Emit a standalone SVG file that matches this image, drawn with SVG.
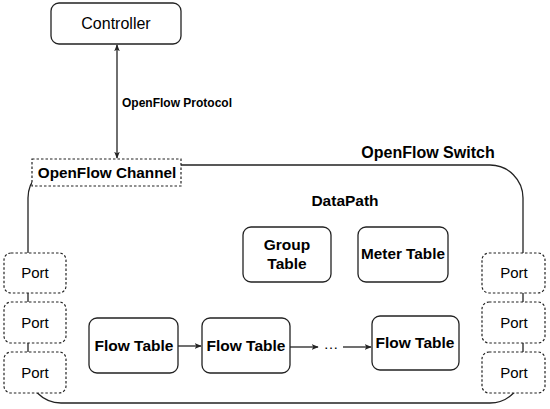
<svg xmlns="http://www.w3.org/2000/svg" width="550" height="409" viewBox="0 0 550 409">
<style>
.box{fill:#fff;stroke:#222;stroke-width:1.3}
.dash{fill:#fff;stroke:#222;stroke-width:1.2;stroke-dasharray:2.5,2}
.line{fill:none;stroke:#222;stroke-width:1.3}
text{font-family:"Liberation Sans",Arial,sans-serif;fill:#000;text-anchor:middle}
.b{font-weight:bold}
</style>
<defs>
<marker id="arr" viewBox="0 0 10 8" refX="9" refY="4" markerWidth="7" markerHeight="6" orient="auto-start-reverse" markerUnits="userSpaceOnUse">
<path d="M0,0 L10,4 L0,8 L2.5,4 z" fill="#222"/>
</marker>
</defs>
<g id="switch">
<rect class="line" x="28" y="165" width="495" height="238" rx="33"/>
<text class="b" x="428" y="158" font-size="16">OpenFlow Switch</text>
<text class="b" x="345" y="206" font-size="15.5">DataPath</text>
</g>
<g id="controller">
<rect class="box" x="51" y="3" width="130" height="41" rx="8"/>
<text x="116" y="29" font-size="16">Controller</text>
</g>
<g id="channel">
<rect class="dash" x="32" y="159" width="149" height="27"/>
<text class="b" x="107" y="178" font-size="15.3">OpenFlow Channel</text>
</g>
<g id="group-table">
<rect class="box" x="243" y="227" width="88" height="55" rx="8"/>
<text class="b" x="287" y="250" font-size="15.5">Group</text>
<text class="b" x="287" y="269" font-size="15.5">Table</text>
</g>
<g id="meter-table">
<rect class="box" x="358" y="227" width="90" height="55" rx="8"/>
<text class="b" x="403" y="259" font-size="15.3">Meter Table</text>
</g>
<g id="flow-table-1">
<rect class="box" x="89" y="318" width="89" height="55" rx="8"/>
<text class="b" x="134" y="351" font-size="15.5">Flow Table</text>
</g>
<g id="flow-table-2">
<rect class="box" x="202" y="318" width="88" height="55" rx="8"/>
<text class="b" x="246" y="351" font-size="15.5">Flow Table</text>
</g>
<g id="flow-table-3">
<rect class="box" x="372" y="316" width="87" height="54" rx="8"/>
<text class="b" x="415" y="348" font-size="15.5">Flow Table</text>
</g>
<g id="ellipsis">
<text x="331" y="349" font-size="15">…</text>
</g>
<g id="port-l1"><rect class="dash" x="4" y="253" width="62" height="40" rx="7"/><text x="35" y="278" font-size="15">Port</text></g>
<g id="port-l2"><rect class="dash" x="4" y="302" width="62" height="41" rx="7"/><text x="35" y="328" font-size="15">Port</text></g>
<g id="port-l3"><rect class="dash" x="4" y="352" width="62" height="41" rx="7"/><text x="35" y="378" font-size="15">Port</text></g>
<g id="port-r1"><rect class="dash" x="482" y="253" width="63" height="40" rx="7"/><text x="514" y="278" font-size="15">Port</text></g>
<g id="port-r2"><rect class="dash" x="482" y="302" width="63" height="41" rx="7"/><text x="514" y="328" font-size="15">Port</text></g>
<g id="port-r3"><rect class="dash" x="482" y="352" width="63" height="41" rx="7"/><text x="514" y="378" font-size="15">Port</text></g>
<g id="connectors">
<line class="line" x1="117" y1="45" x2="117" y2="158" marker-start="url(#arr)" marker-end="url(#arr)"/>
<text class="b" x="177" y="107" font-size="12">OpenFlow Protocol</text>
<line class="line" x1="178" y1="346" x2="201" y2="346" marker-end="url(#arr)"/>
<line class="line" x1="290" y1="347" x2="318" y2="347" marker-end="url(#arr)"/>
<line class="line" x1="343" y1="347" x2="371" y2="347" marker-end="url(#arr)"/>
</g>
</svg>
